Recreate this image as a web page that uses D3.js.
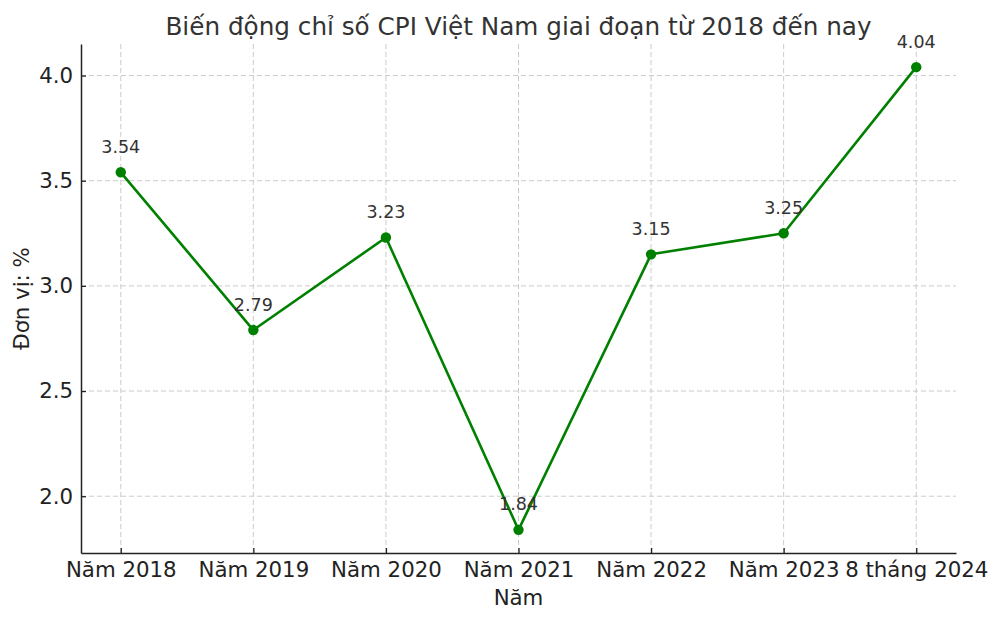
<!DOCTYPE html>
<html>
<head>
<meta charset="utf-8">
<script src="https://cdn.jsdelivr.net/npm/d3@7"></script>
<style>
  html, body { margin: 0; padding: 0; background: #fff; }
  svg { display: block; font-family: "DejaVu Sans", sans-serif; }
</style>
</head>
<body>
<svg id="chart" width="1000" height="622"></svg>
<script>
const categories = ["Năm 2018", "Năm 2019", "Năm 2020", "Năm 2021", "Năm 2022", "Năm 2023", "8 tháng 2024"];
const cpiValues = [3.54, 2.79, 3.23, 1.84, 3.15, 3.25, 4.04];
const yTicks = [2.0, 2.5, 3.0, 3.5, 4.0];
const titleText = "Biến động chỉ số CPI Việt Nam giai đoạn từ 2018 đến nay";
const xLabelText = "Năm";
const yLabelText = "Đơn vị: %";

const W = 1000, H = 622;
const m = { left: 81, right: 44, top: 44, bottom: 69 };
const svg = d3.select("#chart");

const x = d3.scaleLinear().domain([-0.3, categories.length - 1 + 0.3]).range([m.left, W - m.right]);
const yMin = d3.min(cpiValues), yMax = d3.max(cpiValues), pad = (yMax - yMin) * 0.05;
const y = d3.scaleLinear().domain([yMin - pad, yMax + pad]).range([H - m.bottom, m.top]);

// grid
const grid = svg.append("g");
grid.selectAll("line.gx").data(categories.map((c, i) => i)).join("line")
  .attr("x1", d => x(d)).attr("x2", d => x(d))
  .attr("y1", m.top).attr("y2", H - m.bottom)
  .attr("stroke", "#cbcbcb").attr("stroke-width", 1).attr("stroke-dasharray", "5,3");
grid.selectAll("line.gy").data(yTicks).join("line")
  .attr("x1", m.left).attr("x2", W - m.right)
  .attr("y1", d => y(d)).attr("y2", d => y(d))
  .attr("stroke", "#cbcbcb").attr("stroke-width", 1).attr("stroke-dasharray", "5,3");

// axes
const xAxis = d3.axisBottom(x).tickValues(categories.map((c, i) => i))
  .tickFormat(i => categories[i]).tickSizeInner(-5).tickSizeOuter(0).tickPadding(9);
const gx = svg.append("g").attr("transform", `translate(0,${H - m.bottom})`).call(xAxis);
gx.select(".domain").attr("stroke", "#222").attr("stroke-width", 1.5);
gx.selectAll(".tick line").attr("stroke", "#222").attr("stroke-width", 1.3);
gx.selectAll("text").attr("font-size", 21.3).attr("fill", "#222").attr("font-family", "DejaVu Sans");

const yAxis = d3.axisLeft(y).tickValues(yTicks).tickFormat(d3.format(".1f"))
  .tickSizeInner(-5).tickSizeOuter(0).tickPadding(8);
const gy = svg.append("g").attr("transform", `translate(${m.left},0)`).call(yAxis);
gy.select(".domain").attr("stroke", "#222").attr("stroke-width", 1.5);
gy.selectAll(".tick line").attr("stroke", "#222").attr("stroke-width", 1.3);
gy.selectAll("text").attr("font-size", 21.3).attr("fill", "#222").attr("font-family", "DejaVu Sans");

// line
const line = d3.line().x((d, i) => x(i)).y(d => y(d));
svg.append("path").datum(cpiValues).attr("d", line)
  .attr("fill", "none").attr("stroke", "#008000").attr("stroke-width", 2.6).attr("stroke-linejoin", "round");
svg.selectAll("circle.pt").data(cpiValues).join("circle")
  .attr("cx", (d, i) => x(i)).attr("cy", d => y(d)).attr("r", 5.2).attr("fill", "#008000");

// annotations
svg.selectAll("text.ann").data(cpiValues).join("text")
  .attr("x", (d, i) => x(i)).attr("y", d => y(d) - 19.5)
  .attr("text-anchor", "middle").attr("font-size", 17.5).attr("fill", "#333")
  .text(d => d.toFixed(2));

// title and labels
svg.append("text").attr("x", (m.left + W - m.right) / 2).attr("y", 35)
  .attr("text-anchor", "middle").attr("font-size", 24.7).attr("fill", "#333").text(titleText);
svg.append("text").attr("x", (m.left + W - m.right) / 2).attr("y", 605)
  .attr("text-anchor", "middle").attr("font-size", 21.3).attr("fill", "#222").text(xLabelText);
svg.append("text").attr("transform", `translate(29,${(m.top + H - m.bottom) / 2}) rotate(-90)`)
  .attr("text-anchor", "middle").attr("font-size", 21.3).attr("fill", "#222").text(yLabelText);
</script>
</body>
</html>
